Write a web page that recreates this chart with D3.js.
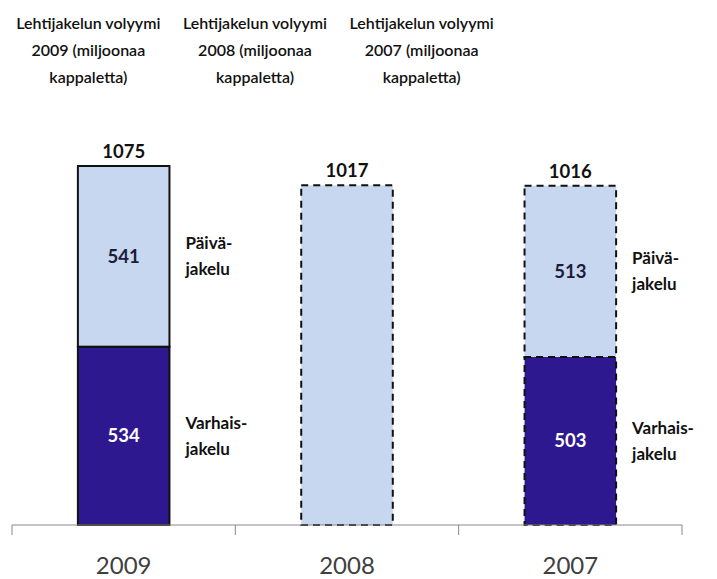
<!DOCTYPE html>
<html>
<head>
<meta charset="utf-8">
<script src="https://cdn.jsdelivr.net/npm/d3@7"></script>
<style>
  body { margin: 0; background: #fff; }
  text { font-family: Lato, "Open Sans", sans-serif; }
</style>
</head>
<body>
<svg id="chart"></svg>
<script>
var years = ['2009', '2008', '2007'];
var totals = [1075, 1017, 1016];
var varhais = [534, null, 503];
var paiva = [541, null, 513];
var dashed = [false, true, true];
var titles = [
  ['Lehtijakelun volyymi', '2009 (miljoonaa', 'kappaletta)'],
  ['Lehtijakelun volyymi', '2008 (miljoonaa', 'kappaletta)'],
  ['Lehtijakelun volyymi', '2007 (miljoonaa', 'kappaletta)']
];
var segNames = { paiva: ['Päivä-', 'jakelu'], varhais: ['Varhais-', 'jakelu'] };

var width = 717, height = 579;
var light = '#c6d7ef', dark = '#2e1890';

var svg = d3.select('#chart').attr('width', width).attr('height', height);

var x = d3.scaleBand().domain(years).range([12, 682]).paddingInner(0.59).paddingOuter(0.295);
var y = d3.scaleLinear().domain([0, 1075]).range([525, 166]);
var tx = d3.scaleBand().domain(years).range([5, 505]);

// titles
var tg = svg.append('g')
  .selectAll('text')
  .data(years)
  .enter()
    .append('text')
    .attr('text-anchor', 'middle')
    .attr('font-size', 16)
    .attr('font-weight', 600)
    .attr('fill', '#111');
tg.each(function(d, i){
  var t = d3.select(this);
  titles[i].forEach(function(line, j){
    t.append('tspan')
      .attr('x', tx(d) + tx.bandwidth() / 2)
      .attr('y', 29 + j * 27)
      .text(line);
  });
});

// segments
var segs = [];
years.forEach(function(yr, i){
  if(varhais[i] == null){
    segs.push({year: yr, i: i, kind: 'paiva', y0: 0, y1: totals[i], value: null});
  } else {
    segs.push({year: yr, i: i, kind: 'varhais', y0: 0, y1: varhais[i], value: varhais[i]});
    segs.push({year: yr, i: i, kind: 'paiva', y0: varhais[i], y1: varhais[i] + paiva[i], value: paiva[i]});
  }
});

var bars = svg.append('g');
bars.selectAll('rect')
  .data(segs)
  .enter()
    .append('rect')
    .attr('x', function(d){ return x(d.year); })
    .attr('y', function(d){ return y(d.y1); })
    .attr('width', x.bandwidth())
    .attr('height', function(d){ return y(d.y0) - y(d.y1); })
    .attr('fill', function(d){ return d.kind == 'varhais' ? dark : light; })
    .attr('stroke', '#111')
    .attr('stroke-width', 2)
    .attr('stroke-dasharray', function(d){ return dashed[d.i] ? '7,5' : null; });

// values inside segments
bars.selectAll('text.val')
  .data(segs.filter(function(d){ return d.value != null; }))
  .enter()
    .append('text')
    .attr('class', 'val')
    .attr('x', function(d){ return x(d.year) + x.bandwidth() / 2; })
    .attr('y', function(d){ return (y(d.y0) + y(d.y1)) / 2; })
    .attr('dy', '0.35em')
    .attr('text-anchor', 'middle')
    .attr('font-size', 18.5)
    .attr('font-weight', 700)
    .attr('fill', function(d){ return d.kind == 'varhais' ? '#fff' : '#1c1c3a'; })
    .text(function(d){ return d.value; });

// segment names right of bar
var names = bars.selectAll('text.name')
  .data(segs.filter(function(d){ return d.value != null; }))
  .enter()
    .append('text')
    .attr('class', 'name')
    .attr('font-size', 17)
    .attr('font-weight', 700)
    .attr('fill', '#111');
names.each(function(d){
  var t = d3.select(this), mid = (y(d.y0) + y(d.y1)) / 2;
  segNames[d.kind].forEach(function(line, j){
    t.append('tspan')
      .attr('x', x(d.year) + x.bandwidth() + 16)
      .attr('y', mid - 13 + j * 26)
      .attr('dy', '0.35em')
      .text(line);
  });
});

// totals
bars.selectAll('text.total')
  .data(years)
  .enter()
    .append('text')
    .attr('class', 'total')
    .attr('x', function(d){ return x(d) + x.bandwidth() / 2; })
    .attr('y', function(d, i){ return y(totals[i]) - 8; })
    .attr('text-anchor', 'middle')
    .attr('font-size', 18.5)
    .attr('font-weight', 700)
    .attr('fill', '#111')
    .text(function(d, i){ return totals[i]; });

// axis
var step = x.step(), edge = step * x.paddingOuter();
var bounds = years.map(function(d){ return x(d) - edge; }).concat([x.range()[1]]);
var ax = svg.append('g');
ax.append('line')
  .attr('x1', x.range()[0]).attr('x2', x.range()[1])
  .attr('y1', y(0)).attr('y2', y(0))
  .attr('stroke', '#888').attr('stroke-width', 1);
ax.selectAll('line.tick')
  .data(bounds)
  .enter()
    .append('line')
    .attr('class', 'tick')
    .attr('x1', function(d){ return d; }).attr('x2', function(d){ return d; })
    .attr('y1', y(0)).attr('y2', y(0) + 10)
    .attr('stroke', '#888').attr('stroke-width', 1);

svg.append('g')
  .attr('transform', 'translate(0,' + y(0) + ')')
  .call(d3.axisBottom(x).tickSize(0).tickPadding(32))
  .call(function(g){ g.select('.domain').remove(); })
  .selectAll('text')
    .attr('font-family', 'Lato, "Open Sans", sans-serif')
    .attr('font-size', 24)
    .attr('fill', '#404040');
</script>
</body>
</html>
